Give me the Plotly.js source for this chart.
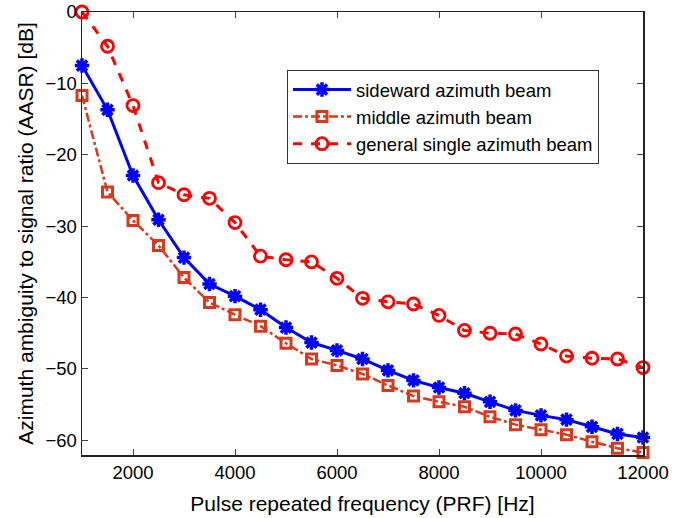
<!DOCTYPE html>
<html>
<head>
<meta charset="utf-8">
<script src="https://cdn.plot.ly/plotly-3.0.1.min.js"></script>
<style>html,body{margin:0;padding:0;background:#fff;}#chart{width:685px;height:518px;}</style>
</head>
<body>
<div id="chart"></div>
<script>
const prf = [1000,1500,2000,2500,3000,3500,4000,4500,5000,5500,6000,6500,7000,7500,8000,8500,9000,9500,10000,10500,11000,11500,12000];
const sideward = [-7.5,-13.7,-22.9,-29.1,-34.4,-38.1,-39.8,-41.7,-44.2,-46.3,-47.4,-48.6,-50.2,-51.6,-52.6,-53.4,-54.6,-55.8,-56.5,-57.1,-58.1,-59.1,-59.6];
const middle = [-11.7,-25.2,-29.2,-32.7,-37.2,-40.7,-42.4,-44.0,-46.4,-48.6,-49.5,-50.7,-52.3,-53.8,-54.6,-55.3,-56.7,-57.8,-58.5,-59.2,-60.2,-61.1,-61.7];
const general = [0,-4.8,-13.1,-23.9,-25.6,-26.1,-29.5,-34.2,-34.7,-35.0,-37.3,-40.1,-40.6,-40.9,-42.5,-44.6,-45.0,-45.1,-46.5,-48.2,-48.5,-48.6,-49.8];
const names = ['sideward azimuth beam','middle azimuth beam','general single azimuth beam'];
const xTicks = [2000,4000,6000,8000,10000,12000];
const xTickText = ['2000','4000','6000','8000','10000','12000'];
const yTicks = [0,-10,-20,-30,-40,-50,-60];
const yTickText = ['0','\u221210','\u221220','\u221230','\u221240','\u221250','\u221260'];

const traces = [
  {x: prf, y: sideward, name: names[0], mode: 'lines+markers', cliponaxis: false,
   line: {color: '#0000ff', width: 3, dash: 'solid'},
   marker: {symbol: 'asterisk-open', size: 12, color: '#0000ff', line: {color: '#0000ff', width: 3.5}}},
  {x: prf, y: middle, name: names[1], mode: 'lines+markers', cliponaxis: false,
   line: {color: '#d9381a', width: 2.5, dash: 'dashdot'},
   marker: {symbol: 'square-open', size: 10, color: '#d9381a', line: {color: '#d9381a', width: 3}}},
  {x: prf, y: general, name: names[2], mode: 'lines+markers', cliponaxis: false,
   line: {color: '#ff0000', width: 3, dash: 'dash'},
   marker: {symbol: 'circle-open', size: 12, color: '#ff0000', line: {color: '#ff0000', width: 2.8}}}
];

const layout = {
  width: 685, height: 518,
  margin: {l: 82, r: 42, t: 12, b: 63},
  paper_bgcolor: '#ffffff', plot_bgcolor: '#ffffff',
  font: {family: 'Liberation Sans, Arial, sans-serif', size: 18.5, color: '#000'},
  showlegend: true,
  legend: {x: 0.3654, y: 0.869, xanchor: 'left', yanchor: 'top',
           bgcolor: '#ffffff', bordercolor: '#333', borderwidth: 1,
           font: {size: 18.5}, tracegroupgap: 0, itemwidth: 58},
  xaxis: {range: [1000, 12000], tickvals: xTicks, ticktext: xTickText, ticks: 'inside', ticklen: 6,
          mirror: 'ticks', showline: true, linecolor: '#222', linewidth: 1.5,
          showgrid: false, zeroline: false, tickfont: {size: 18.5},
          title: {text: 'Pulse repeated frequency (PRF) [Hz]', font: {size: 21}, standoff: 14}},
  yaxis: {range: [-62.05, 0], tickvals: yTicks, ticktext: yTickText, ticks: 'inside', ticklen: 6,
          mirror: 'ticks', showline: true, linecolor: '#222', linewidth: 1.5,
          showgrid: false, zeroline: false, tickfont: {size: 18.5},
          title: {text: 'Azimuth ambiguity to signal ratio (AASR) [dB]', font: {size: 21}, standoff: 6}}
};

Plotly.newPlot('chart', traces, layout, {displayModeBar: false, staticPlot: true});
</script>
</body>
</html>
